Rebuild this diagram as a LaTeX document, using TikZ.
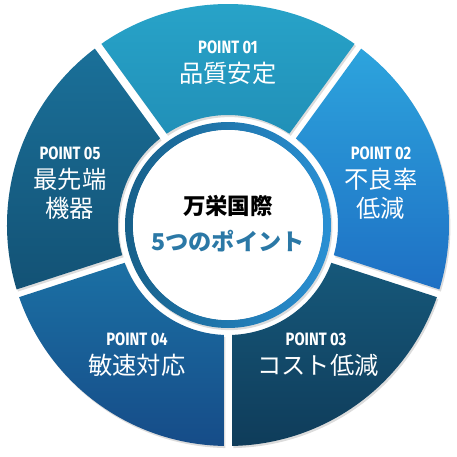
\documentclass[tikz,border=0pt]{standalone}
\usepackage{fontspec}
\newfontfamily\ptfont{Fira Sans}[FakeStretch=0.82]
\newfontfamily\jpfont{Noto Sans CJK JP}
\usetikzlibrary{shadows}

\definecolor{segAtop}{HTML}{28A5CA}
\definecolor{segAbot}{HTML}{2190B8}
\definecolor{segBtop}{HTML}{2DA4DD}
\definecolor{segBbot}{HTML}{1E70C4}
\definecolor{segCtop}{HTML}{16587A}
\definecolor{segCbot}{HTML}{0F3C5A}
\definecolor{segDtop}{HTML}{1B70A4}
\definecolor{segDbot}{HTML}{164C88}
\definecolor{segEtop}{HTML}{1A7099}
\definecolor{segEbot}{HTML}{135275}
\definecolor{ringL}{HTML}{17608A}
\definecolor{ringR}{HTML}{2A90D4}
\definecolor{subblue}{HTML}{2B78A6}

\begin{document}
\begin{tikzpicture}[x=0.02cm, y=0.02cm,
  segshadow/.style={drop shadow={shadow xshift=0.8pt, shadow yshift=-1.2pt, opacity=0.28}},
  pointlbl/.style={font=\ptfont\bfseries\fontsize{10.2}{11}\selectfont, text=white, inner sep=0pt},
  itemlbl/.style={font=\jpfont\fontsize{13.8}{16.5}\selectfont, text=white, align=center, inner sep=0pt}]

  \useasboundingbox (-228,-232) rectangle (229,225);

  % Outer / inner radius of the segments
  \def\Ro{221}
  \def\Ri{110}

  % Five segments: start / end angle / shading
  \foreach \a/\b/\ct/\cb in {54/126/segAtop/segAbot, -18/54/segBtop/segBbot,
      -90/-18/segCtop/segCbot, 198/270/segDtop/segDbot, 126/198/segEtop/segEbot} {
    \path[segshadow, top color=\ct, bottom color=\cb]
      (\a+1.05:\Ro) arc[start angle=\a+1.05, end angle=\b-1.05, radius=\Ro]
      -- (\b-2.1:\Ri) arc[start angle=\b-2.1, end angle=\a+2.1, radius=\Ri] -- cycle;
  }

  % Blue ring and white hub
  \path[segshadow, even odd rule, left color=ringL, right color=ringR]
    (0,0) circle (103) (0,0) circle (95);
  \fill[white] (0,0) circle (95);

  % Centre text
  \node[font=\jpfont\bfseries\fontsize{12.8}{14}\selectfont, text=black] (title) at (0,19) {万栄国際};
  \node[font=\jpfont\bfseries\fontsize{13.2}{14}\selectfont, text=subblue] (sub) at (0,-16) {5つのポイント};

  % POINT 01
  \node[pointlbl] (p1) at (0,178) {POINT 01};
  \node[itemlbl] (t1) at (0,152) {品質安定};

  % POINT 02
  \node[pointlbl] (p2) at (153,72) {POINT 02};
  \node[itemlbl] (t2) at (153,31) {不良率\\低減};

  % POINT 03
  \node[pointlbl] (p3) at (88,-114) {POINT 03};
  \node[itemlbl] (t3) at (90,-140) {コスト低減};

  % POINT 04
  \node[pointlbl] (p4) at (-91,-114) {POINT 04};
  \node[itemlbl] (t4) at (-91,-140) {敏速対応};

  % POINT 05
  \node[pointlbl] (p5) at (-158,72) {POINT 05};
  \node[itemlbl] (t5) at (-158,31) {最先端\\機器};
\end{tikzpicture}
\end{document}
